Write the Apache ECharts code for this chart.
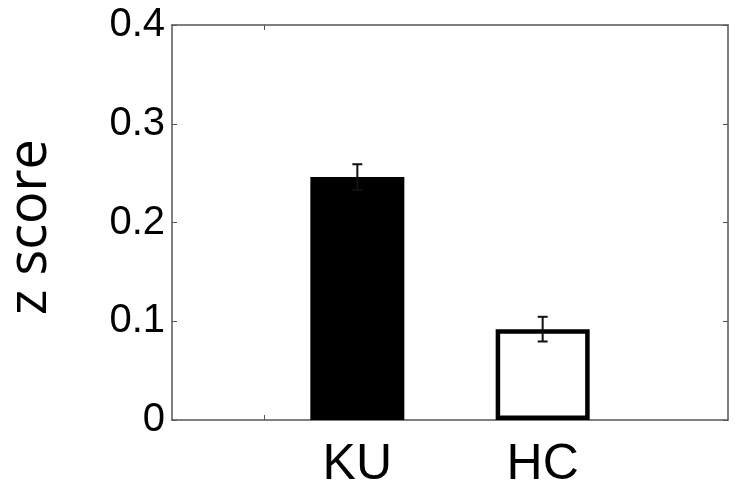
<!DOCTYPE html>
<html>
<head>
<meta charset="utf-8">
<script src="https://cdn.jsdelivr.net/npm/echarts@6/dist/echarts.min.js"></script>
<style>html,body{margin:0;padding:0;background:#fff;}#c{width:738px;height:493px;}</style>
</head>
<body>
<div id="c"></div>
<script>
const categories = ['KU', 'HC'];
const positions = [1, 2];
const values = [0.246, 0.092];
const errors = [0.013, 0.0125];
const yLabel = 'z score';

const chart = echarts.init(document.getElementById('c'));
const axisLine = { show: true, onZero: false, lineStyle: { color: '#555', width: 1.5 } };
const barData = values.map((v, i) => ({
  value: [positions[i], v],
  itemStyle: i === 0
    ? { color: '#000', borderColor: '#000', borderWidth: 0 }
    : { color: '#fff', borderColor: '#000', borderWidth: 4.5 }
}));
const errData = values.map((v, i) => [positions[i], v - errors[i], v + errors[i]]);

chart.setOption({
  animation: false,
  backgroundColor: '#fff',
  grid: { left: 172, right: 10, top: 25, bottom: 73 },
  xAxis: [
    {
      type: 'value', min: 0, max: 3, position: 'bottom',
      axisLine: axisLine,
      axisTick: { show: true, inside: true, length: 5, customValues: [0.5], lineStyle: { color: '#555' } },
      axisLabel: {
        customValues: positions,
        formatter: v => categories[positions.indexOf(v)] || '',
        fontFamily: 'Liberation Sans', fontSize: 50, color: '#000', margin: 20
      },
      splitLine: { show: false }
    },
    {
      type: 'value', min: 0, max: 3, position: 'top',
      axisLine: axisLine,
      axisTick: { show: true, inside: true, length: 5, customValues: [0.5], lineStyle: { color: '#555' } },
      axisLabel: { show: false },
      splitLine: { show: false }
    }
  ],
  yAxis: [
    {
      type: 'value', min: 0, max: 0.4, interval: 0.1, position: 'left',
      axisLine: axisLine,
      axisTick: { show: true, inside: true, length: 5, lineStyle: { color: '#555' } },
      axisLabel: { fontFamily: 'Liberation Sans', fontSize: 40, color: '#000', margin: 7 },
      splitLine: { show: false }
    },
    {
      type: 'value', min: 0, max: 0.4, interval: 0.1, position: 'right',
      axisLine: axisLine,
      axisTick: { show: true, inside: true, length: 5, lineStyle: { color: '#555' } },
      axisLabel: { show: false },
      splitLine: { show: false }
    }
  ],
  series: [
    {
      type: 'bar', xAxisIndex: 0, yAxisIndex: 0,
      barWidth: 94,
      data: barData,
      z: 2
    },
    {
      type: 'custom', xAxisIndex: 0, yAxisIndex: 0, z: 5,
      data: errData,
      renderItem: function (params, api) {
        const x = api.value(0);
        const lo = api.coord([x, api.value(1)]);
        const hi = api.coord([x, api.value(2)]);
        const hw = 5;
        const style = { stroke: '#111', lineWidth: 2 };
        return {
          type: 'group',
          children: [
            { type: 'line', shape: { x1: lo[0], y1: lo[1], x2: hi[0], y2: hi[1] }, style: style },
            { type: 'line', shape: { x1: hi[0] - hw, y1: hi[1], x2: hi[0] + hw, y2: hi[1] }, style: style },
            { type: 'line', shape: { x1: lo[0] - hw, y1: lo[1], x2: lo[0] + hw, y2: lo[1] }, style: style }
          ]
        };
      }
    }
  ],
  graphic: [
    {
      type: 'text', x: 31, y: 227, rotation: Math.PI / 2,
      style: { text: yLabel, fontFamily: 'Open Sans', fontSize: 54, fill: '#000', align: 'center', verticalAlign: 'middle' }
    }
  ]
});
</script>
</body>
</html>
